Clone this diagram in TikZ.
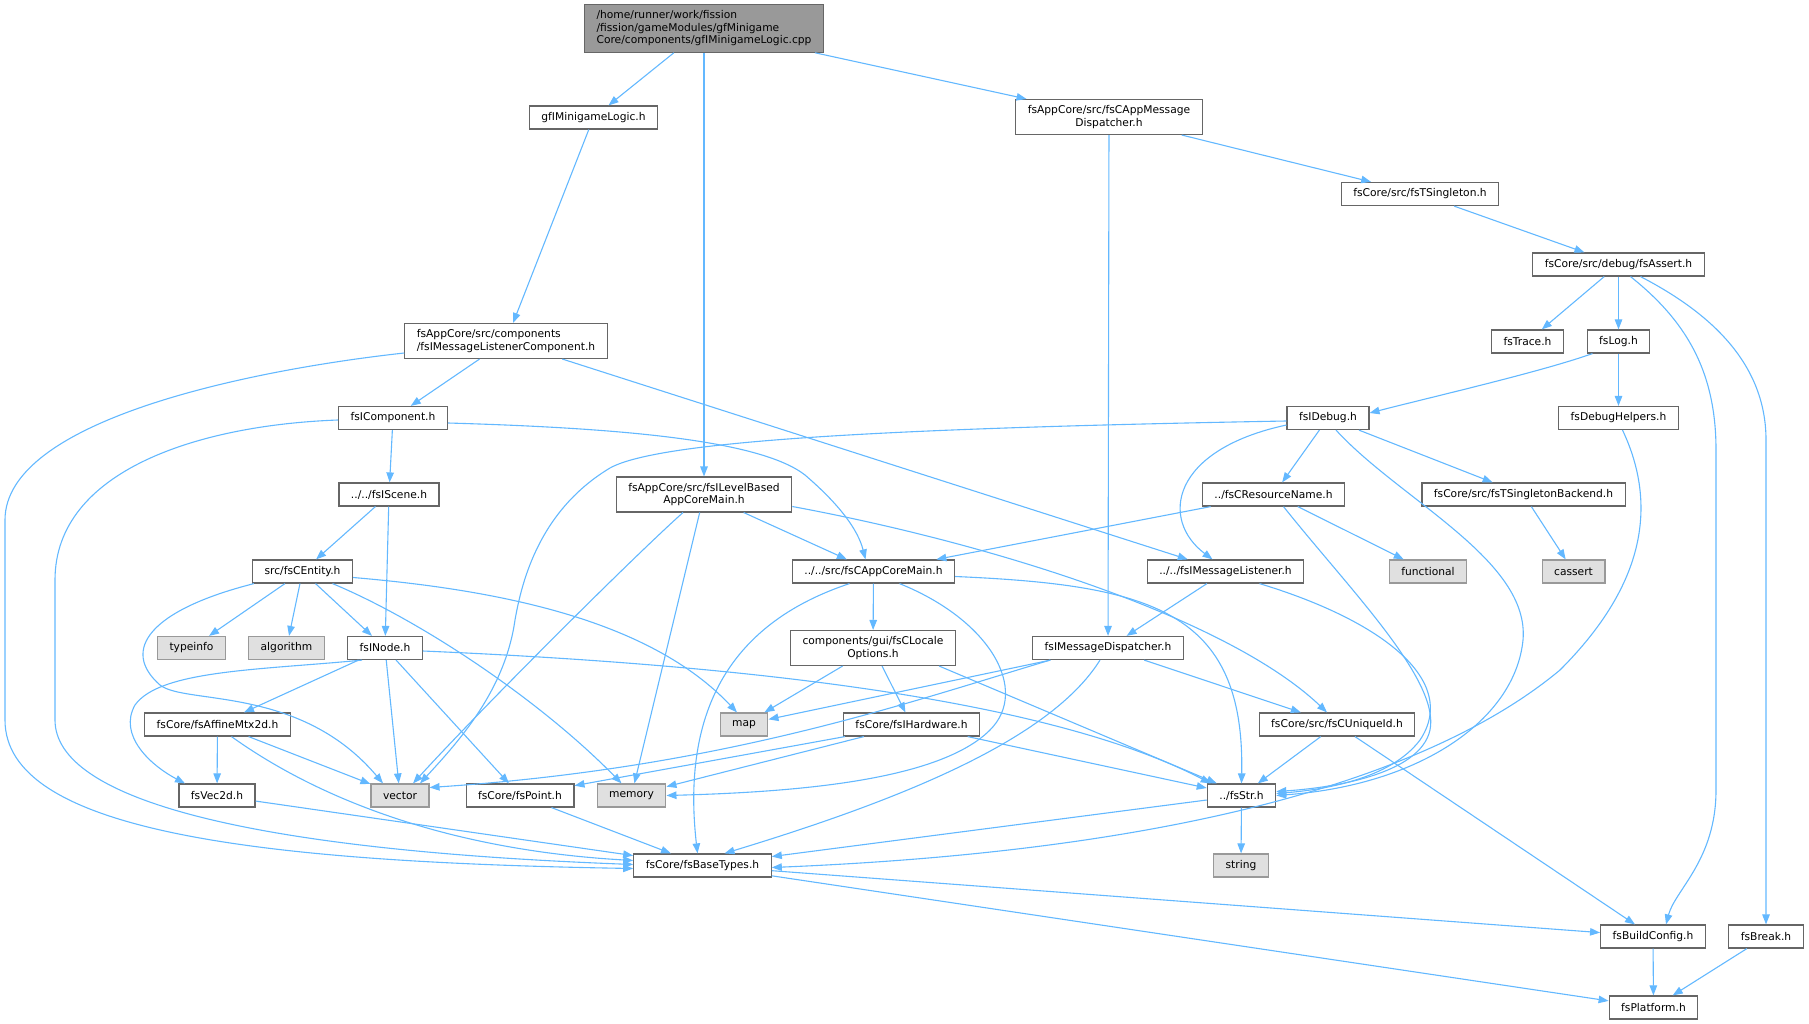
\documentclass[tikz,border=0pt]{standalone}
\usepackage{fontspec}
\setmainfont{DejaVu Sans}
\usetikzlibrary{arrows.meta,calc}

\definecolor{edgeblue}{HTML}{63B8FF}
\definecolor{boxline}{HTML}{666666}
\definecolor{sysline}{HTML}{999999}
\definecolor{sysfill}{HTML}{E0E0E0}
\definecolor{rootfill}{HTML}{999999}

\begin{document}
\begin{tikzpicture}[x=1pt, y=-1pt,
  hdr/.style={draw=boxline, fill=white, line width=1.2pt, inner xsep=12pt, inner ysep=6pt,
    minimum height=23pt, align=center, font=\fontsize{10.7}{12.5}\selectfont},
  syshdr/.style={hdr, draw=sysline, fill=sysfill},
  srcfile/.style={hdr, fill=rootfill, align=left},
  dep/.style={draw=edgeblue, line width=1.1pt, -{Triangle[length=10pt,width=7.5pt]}}]

\useasboundingbox (0,0) rectangle (1809,1024);

\node[srcfile] (main) at (704,28.5) {/home/runner/work/fission\\/fission/gameModules/gfMinigame\\Core/components/gfIMinigameLogic.cpp};
\node[hdr] (gfLogic) at (593.5,117.5) {gfIMinigameLogic.h};
\node[hdr] (appMsg) at (1109,117) {fsAppCore/src/fsCAppMessage\\Dispatcher.h};
\node[hdr] (singleton) at (1420,194) {fsCore/src/fsTSingleton.h};
\node[hdr] (assert) at (1618.5,264.5) {fsCore/src/debug/fsAssert.h};
\node[hdr] (trace) at (1527.5,341.5) {fsTrace.h};
\node[hdr] (log) at (1618.5,341.5) {fsLog.h};
\node[hdr, align=left] (listenerComp) at (506,341) {fsAppCore/src/components\\/fsIMessageListenerComponent.h};
\node[hdr] (component) at (393,418) {fsIComponent.h};
\node[hdr] (debug) at (1328,418) {fsIDebug.h};
\node[hdr] (debugHelpers) at (1618.5,418) {fsDebugHelpers.h};
\node[hdr] (scene) at (389,494.5) {../../fsIScene.h};
\node[hdr] (levelMain) at (704,494.5) {fsAppCore/src/fsILevelBased\\AppCoreMain.h};
\node[hdr] (resName) at (1273.5,494.5) {../fsCResourceName.h};
\node[hdr] (singletonBackend) at (1523.5,494.5) {fsCore/src/fsTSingletonBackend.h};
\node[hdr] (entity) at (302.5,571.5) {src/fsCEntity.h};
\node[hdr] (appCoreMain) at (873.5,571.5) {../../src/fsCAppCoreMain.h};
\node[hdr] (msgListener) at (1225.5,571.5) {../../fsIMessageListener.h};
\node[syshdr] (functional) at (1428,571.5) {functional};
\node[syshdr] (cassert) at (1573.5,571.5) {cassert};
\node[syshdr] (typeinfo) at (191.5,648) {typeinfo};
\node[syshdr] (algorithm) at (286.5,648) {algorithm};
\node[hdr] (inode) at (385,648) {fsINode.h};
\node[hdr] (localeOpts) at (873,648) {components/gui/fsCLocale\\Options.h};
\node[hdr] (msgDispatcher) at (1108,648) {fsIMessageDispatcher.h};
\node[hdr] (affine) at (217.5,724.5) {fsCore/fsAffineMtx2d.h};
\node[syshdr] (map) at (744,724.5) {map};
\node[hdr] (hardware) at (911.5,724.5) {fsCore/fsIHardware.h};
\node[hdr] (uniqueId) at (1337,724.5) {fsCore/src/fsCUniqueId.h};
\node[hdr] (vec2d) at (217,795.5) {fsVec2d.h};
\node[syshdr] (vector) at (400,795.5) {vector};
\node[hdr] (point) at (520,795.5) {fsCore/fsPoint.h};
\node[syshdr] (memory) at (631.5,795.5) {memory};
\node[hdr] (str) at (1241.5,795.5) {../fsStr.h};
\node[hdr] (baseTypes) at (702.5,865.5) {fsCore/fsBaseTypes.h};
\node[syshdr] (string) at (1241,865.5) {string};
\node[hdr] (buildConfig) at (1653,936.5) {fsBuildConfig.h};
\node[hdr] (brk) at (1766,936.5) {fsBreak.h};
\node[hdr] (platform) at (1653.5,1007.5) {fsPlatform.h};

\draw[dep] (main) -- (gfLogic);
\draw[dep] (main) -- (levelMain);
\draw[dep] (main) -- (appMsg);
\draw[dep] (gfLogic) -- (listenerComp);
\draw[dep] (appMsg) -- (singleton);
\draw[dep] (appMsg) -- (msgDispatcher);
\draw[dep] (singleton) -- (assert);
\draw[dep] (assert) -- (trace);
\draw[dep] (assert) -- (log);
\draw[dep] ($(assert.south)+(12,0)$) .. controls (1685,320) and (1716,370) .. (1716,450) -- (1716,790) .. controls (1716,860) and (1675,890) .. ($(buildConfig.north)+(13,0)$);
\draw[dep] ($(assert.south)+(22,0)$) .. controls (1705,310) and (1766,360) .. (1766,440) -- (brk.north);
\draw[dep] ($(log.south)+(-26,0)$) .. controls (1540,372) and (1440,395) .. ($(debug.east)+(0,-5)$);
\draw[dep] (log) -- (debugHelpers);
\draw[dep] ($(debugHelpers.south)+(4,0)$) .. controls (1665,520) and (1630,600) .. (1560,670) .. controls (1440,770) and (1200,850) .. ($(baseTypes.east)+(0,2)$);

\draw[dep] ($(debug.west)+(0,3)$) .. controls (900,428) and (660,440) .. (610,468) .. controls (540,510) and (522,580) .. (515,620) .. controls (505,690) and (460,740) .. ($(vector.north)+(20,0)$);
\draw[dep] (debug) -- (resName);
\draw[dep] ($(debug.west)+(0,7)$) .. controls (1170,450) and (1160,520) .. ($(msgListener.north)+(-13,0)$);
\draw[dep] (debug) -- (singletonBackend);
\draw[dep] ($(debug.south)+(8,0)$) .. controls (1400,500) and (1530,560) .. (1523,640) .. controls (1515,720) and (1420,785) .. (str.east);
\draw[dep] (singletonBackend) -- (cassert);
\draw[dep] (resName) -- (appCoreMain);
\draw[dep] (resName) -- (functional);
\draw[dep] ($(resName.south)+(10,0)$) .. controls (1350,590) and (1440,680) .. (1430,730) .. controls (1420,775) and (1330,788) .. ($(str.east)+(0,-4)$);

\draw[dep] ($(listenerComp.west)+(0,12)$) .. controls (250,370) and (5,420) .. (5,520) -- (5,720) .. controls (5,830) and (250,862) .. ($(baseTypes.west)+(0,3)$);
\draw[dep] (listenerComp) -- (component);
\draw[dep] (listenerComp) -- (msgListener);
\draw[dep] ($(component.west)+(0,2)$) .. controls (200,425) and (55,470) .. (55,580) -- (55,720) .. controls (55,800) and (250,850) .. ($(baseTypes.west)+(0,-1)$);
\draw[dep] (component) -- (scene);
\draw[dep] ($(component.east)+(0,5)$) .. controls (620,428) and (760,440) .. (805,475) .. controls (840,505) and (858,530) .. ($(appCoreMain.north)+(-8,0)$);
\draw[dep] (scene) -- (entity);
\draw[dep] (scene) -- (inode);

\draw[dep] (levelMain) -- (appCoreMain);
\draw[dep] ($(levelMain.south)+(-21,0)$) .. controls (630,560) and (480,710) .. ($(vector.north)+(13,0)$);
\draw[dep] (levelMain) -- (memory);
\draw[dep] ($(levelMain.east)+(0,12)$) .. controls (1000,545) and (1230,620) .. ($(uniqueId.north)+(-10,0)$);

\draw[dep] (entity) -- (typeinfo);
\draw[dep] (entity) -- (algorithm);
\draw[dep] (entity) -- (inode);
\draw[dep] ($(entity.south west)+(2,0)$) .. controls (150,610) and (120,650) .. (160,685) .. controls (185,705) and (300,685) .. ($(vector.north)+(-17,0)$);
\draw[dep] ($(entity.south)+(30,0)$) .. controls (420,620) and (540,700) .. ($(memory.north)+(-10,0)$);
\draw[dep] ($(entity.east)+(0,6)$) .. controls (500,590) and (650,620) .. ($(map.north)+(-7,0)$);

\draw[dep] (appCoreMain) -- (localeOpts);
\draw[dep] ($(appCoreMain.south)+(-24,0)$) .. controls (740,620) and (680,700) .. ($(baseTypes.north)+(-5,0)$);
\draw[dep] ($(appCoreMain.south)+(26,0)$) .. controls (990,620) and (1030,690) .. (990,730) .. controls (940,780) and (800,792) .. (memory.east);
\draw[dep] ($(appCoreMain.east)+(0,5)$) .. controls (1150,585) and (1245,610) .. (str.north);

\draw[dep] (msgListener) -- (msgDispatcher);
\draw[dep] ($(msgListener.south)+(34,0)$) .. controls (1380,620) and (1460,680) .. (1420,740) .. controls (1390,780) and (1320,790) .. ($(str.east)+(0,-2)$);

\draw[dep] (inode) -- (affine);
\draw[dep] ($(inode.south)+(-23,0)$) .. controls (260,670) and (160,670) .. (135,705) .. controls (118,735) and (150,765) .. ($(vec2d.north)+(-32,0)$);
\draw[dep] (inode) -- (vector);
\draw[dep] (inode) -- (point);
\draw[dep] ($(inode.east)+(0,3)$) .. controls (750,665) and (1050,700) .. ($(str.north west)+(4,0)$);

\draw[dep] (localeOpts) -- (map);
\draw[dep] (localeOpts) -- (hardware);
\draw[dep] ($(localeOpts.south east)+(-17,0)$) -- ($(str.north west)+(10,0)$);

\draw[dep] (msgDispatcher) -- (map);
\draw[dep] ($(msgDispatcher.south west)+(18,0)$) .. controls (900,705) and (720,768) .. ($(vector.east)+(0,-8)$);
\draw[dep] (msgDispatcher) -- (uniqueId);
\draw[dep] ($(msgDispatcher.south)+(-8,0)$) .. controls (1050,740) and (900,800) .. ($(baseTypes.north)+(22,0)$);

\draw[dep] (affine) -- (vec2d);
\draw[dep] (affine) -- (vector);
\draw[dep] ($(affine.south)+(14,0)$) .. controls (320,800) and (450,850) .. ($(baseTypes.west)+(0,-5)$);

\draw[dep] (hardware) -- (point);
\draw[dep] (hardware) -- (memory);
\draw[dep] (hardware) -- (str);
\draw[dep] (uniqueId) -- (str);
\draw[dep] (uniqueId) -- (buildConfig);

\draw[dep] (vec2d) -- (baseTypes);
\draw[dep] (point) -- (baseTypes);
\draw[dep] (str) -- (string);
\draw[dep] (str) -- (baseTypes);
\draw[dep] (baseTypes) -- (buildConfig);
\draw[dep] (baseTypes) -- (platform);
\draw[dep] (buildConfig) -- (platform);
\draw[dep] (brk) -- (platform);

\end{tikzpicture}
\end{document}
